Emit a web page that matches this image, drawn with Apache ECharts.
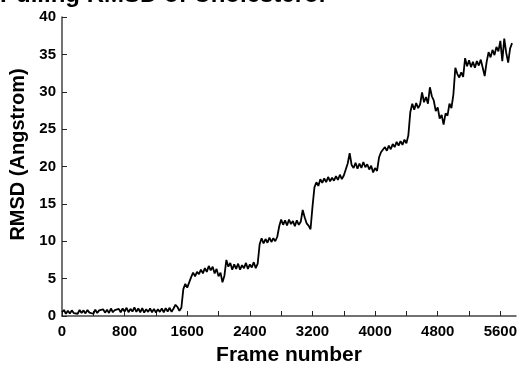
<!DOCTYPE html>
<html><head><meta charset="utf-8">
<script src="https://cdn.jsdelivr.net/npm/echarts@6/dist/echarts.min.js"></script>
<style>html,body{margin:0;padding:0;background:#fff}#c{width:522px;height:366px}</style>
</head><body><div id="c"></div>
<script>
var titleText = 'Pulling RMSD of Cholesterol';
var xName = 'Frame number';
var yName = 'RMSD (Angstrom)';
var frameStep = 25;
var rmsd = [
0.5,0.8,0.3,0.7,0.35,0.75,0.4,0.6,0.3,0.8,
0.4,0.75,0.35,0.8,0.45,0.7,0.3,0.85,0.4,0.75,
0.5,0.9,0.45,0.85,0.4,1.0,0.5,0.8,0.55,0.95,
0.5,1.0,0.6,1.1,0.5,0.95,0.6,1.15,0.55,1.0,
0.5,1.05,0.45,0.9,0.55,1.0,0.5,0.95,0.45,0.9,
0.55,1.0,0.5,1.05,0.6,1.1,0.55,1.0,1.5,1.2,
0.7,1.1,3.6,4.3,3.8,4.5,5.2,5.8,5.3,5.9,
5.6,6.2,5.7,6.4,5.9,6.7,6.1,6.6,5.7,6.3,
5.3,5.8,4.5,5.4,7.5,6.6,7.1,6.2,6.9,6.3,
7.0,6.2,6.8,6.4,7.1,6.3,6.9,6.5,7.2,6.4,
7.0,9.6,10.4,9.7,10.3,9.8,10.5,9.9,10.4,10.0,
10.6,12.0,12.9,12.2,12.8,12.1,12.9,12.3,12.7,12.0,
12.8,12.2,12.6,14.2,13.2,12.4,12.1,11.6,14.6,17.2,
17.9,17.4,18.3,17.8,18.4,17.9,18.6,18.0,18.5,18.1,
18.7,18.2,18.9,18.3,18.8,19.6,20.4,21.8,20.2,19.8,
20.5,19.7,20.4,19.8,20.6,19.9,20.3,19.6,20.1,19.2,
19.8,19.4,21.2,21.9,22.0,22.6,22.1,22.8,22.3,23.0,
22.6,23.3,22.8,23.4,22.9,23.6,23.1,24.2,27.3,28.4,
27.6,28.5,27.8,28.3,29.9,28.6,29.3,28.4,30.6,29.4,
28.8,27.4,27.9,26.4,26.9,25.6,27.1,26.8,28.4,27.8,
29.6,33.2,32.4,31.9,32.6,32.0,34.5,33.4,34.2,33.3,
34.0,33.2,34.1,33.5,34.3,33.2,32.1,34.0,35.3,34.6,
35.6,34.9,36.0,35.4,36.8,34.1,37.1,35.2,33.9,35.8,
36.5
];
var frames = rmsd.map(function(v,i){return i*frameStep;});
var pts = frames.map(function(f,i){return [f, rmsd[i]];});

var chart = echarts.init(document.getElementById('c'), null, {renderer:'canvas'});
var bold = {fontFamily:'Liberation Sans, Arial, sans-serif', fontWeight:'bold', color:'#000'};
chart.setOption({
  animation:false,
  backgroundColor:'#fff',
  graphic:[{type:'text', left:0, top:-17, style:{text:titleText, font:'bold 24px "Liberation Sans", Arial, sans-serif', fill:'#000'}}],
  grid:{left:62, right:6, top:17, bottom:50, containLabel:false, outerBoundsMode:'none'},
  xAxis:{type:'value', min:0, max:5800, interval:400,
    name:xName, nameLocation:'middle', nameGap:29,
    nameTextStyle:Object.assign({fontSize:21}, bold),
    axisLine:{lineStyle:{color:'#444', width:1.5}},
    axisTick:{inside:true, length:5, lineStyle:{color:'#222', width:1}},
    axisLabel:Object.assign({fontSize:15, margin:8, showMaxLabel:false,
      formatter:function(v){return v%800===0 ? String(v) : '';}}, bold),
    splitLine:{show:false}},
  yAxis:{type:'value', min:0, max:40, interval:5,
    name:yName, nameLocation:'middle', nameGap:31,
    nameTextStyle:Object.assign({fontSize:20, padding:[0,0,0,24]}, bold),
    axisLine:{show:true, lineStyle:{color:'#444', width:1.5}},
    axisTick:{show:true, inside:true, length:5, lineStyle:{color:'#222', width:1}},
    axisLabel:Object.assign({fontSize:15, margin:6}, bold),
    splitLine:{show:false}},
  series:[{type:'line', data:pts, showSymbol:false, symbol:'none',
    lineStyle:{color:'#000', width:1.8}}]
});
</script></body></html>
